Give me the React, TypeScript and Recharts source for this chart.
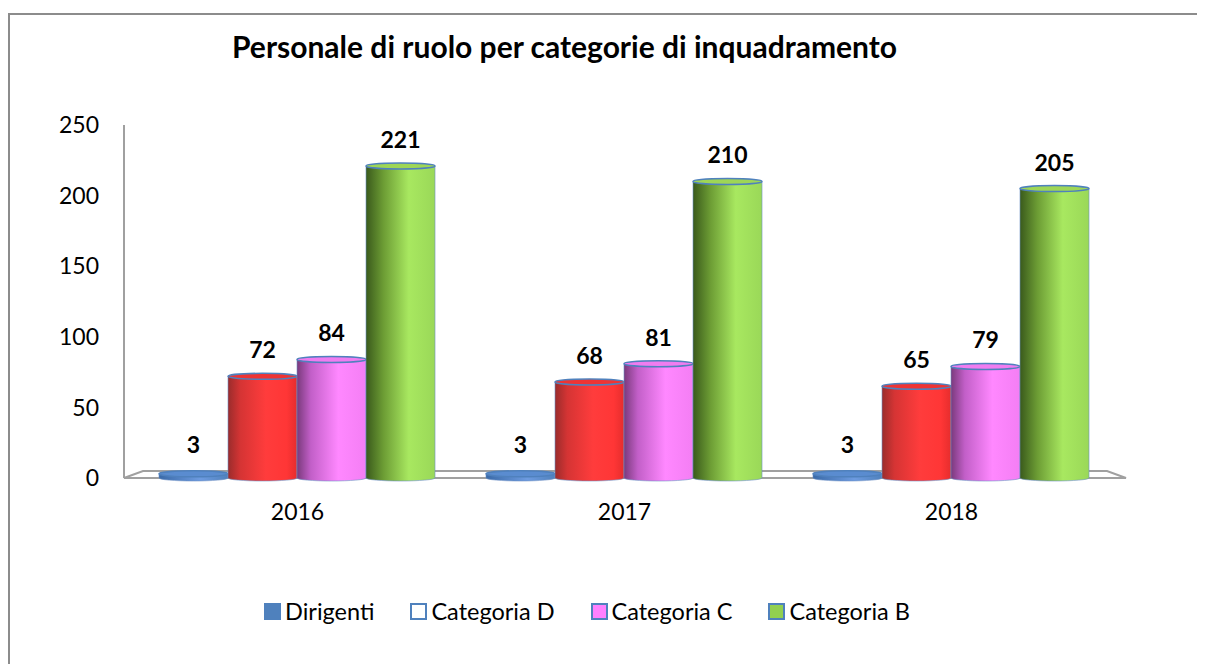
import React from "react"
import * as RC from "recharts"
import { BarChart, Bar, XAxis, YAxis, Legend, LabelList } from "recharts"

const years = ["2016", "2017", "2018"]
const dirigenti = [3, 3, 3]
const categoriaD = [72, 68, 65]
const categoriaC = [84, 81, 79]
const categoriaB = [221, 210, 205]
const yTicks = [0, 50, 100, 150, 200, 250]

const seriesNames = ["Dirigenti", "Categoria D", "Categoria C", "Categoria B"]

const data = years.map((year, i) => ({
  year,
  dirigenti: dirigenti[i],
  catD: categoriaD[i],
  catC: categoriaC[i],
  catB: categoriaB[i],
}))

const FONT = "Lato, 'Open Sans', sans-serif"

const legendItems = [
  { name: seriesNames[0], fill: "#4f81bd", border: "#4f81bd" },
  { name: seriesNames[1], fill: "#ffffff", border: "#4f81bd" },
  { name: seriesNames[2], fill: "#ff80ff", border: "#4f81bd" },
  { name: seriesNames[3], fill: "#92d050", border: "#4f81bd" },
]

function Cylinder(props: any) {
  const { x, y, width, height, gradId, capColor } = props
  if (!width || width <= 0) return null
  const rx = width / 2
  const ry = 3
  const bottom = y + height
  const d = `M${x},${y} L${x},${bottom} A${rx},${ry} 0 0 0 ${x + width},${bottom} L${x + width},${y} Z`
  return (
    <g>
      <path d={d} fill={`url(#${gradId})`} stroke="#6d8fc4" strokeWidth={1} strokeOpacity={0.6} />
      <ellipse cx={x + rx} cy={y} rx={rx} ry={ry} fill={capColor} stroke="#4f81bd" strokeWidth={1.5} />
    </g>
  )
}

function Floor() {
  const hook = (RC as any).usePlotArea || (RC as any).useOffset
  const area = hook ? hook() : null
  const x = area?.x ?? area?.left ?? 116
  const y = area?.y ?? area?.top ?? 117
  const w = area?.width ?? 991
  const h = area?.height ?? 353
  const b = y + h
  const r = x + w
  const pts = `${x},${b} ${x + 19},${b - 7} ${r - 8},${b - 7} ${r + 11},${b}`
  return <polygon points={pts} fill="none" stroke="#a0a0a0" strokeWidth={2} />
}

function Title() {
  return (
    <text x={224} y={50} fontFamily={FONT} fontSize={30} fontWeight="bold" fill="#000">
      Personale di ruolo per categorie di inquadramento
    </text>
  )
}

function LegendContent() {
  return (
    <div style={{ display: "flex", justifyContent: "center", alignItems: "center", fontFamily: FONT, fontSize: 23.5 }}>
      {legendItems.map((it, i) => (
        <div
          key={it.name}
          style={{ display: "flex", alignItems: "center", marginRight: i < legendItems.length - 1 ? 36 : 0 }}
        >
          <span
            style={{
              display: "inline-block",
              width: 13,
              height: 13,
              background: it.fill,
              border: `2px solid ${it.border}`,
              marginRight: 4,
            }}
          />
          <span>{it.name}</span>
        </div>
      ))}
    </div>
  )
}

export default function App() {
  return (
    <div style={{ position: "relative", width: 1197, height: 656, background: "#fff" }}>
      <div
        style={{
          position: "absolute",
          top: 5,
          left: 0,
          width: 1197,
          height: 651,
          borderTop: "2px solid #8c8c8c",
          borderLeft: "2px solid #8c8c8c",
          boxSizing: "border-box",
        }}
      />
      <div style={{ position: "absolute", top: 0, left: 0 }}>
        <BarChart
          width={1197}
          height={656}
          data={data}
          margin={{ top: 117, right: 90, left: 56, bottom: 156 }}
          barCategoryGap={25}
          barGap={0}
        >
          <defs>
            <linearGradient id="gDir" x1="0" y1="0" x2="1" y2="0">
              <stop offset="0%" stopColor="#3a6aa8" />
              <stop offset="60%" stopColor="#6d9be0" />
              <stop offset="100%" stopColor="#4f81bd" />
            </linearGradient>
            <linearGradient id="gD" x1="0" y1="0" x2="1" y2="0">
              <stop offset="0%" stopColor="#9a2c2c" />
              <stop offset="18%" stopColor="#d53434" />
              <stop offset="55%" stopColor="#ff3c3c" />
              <stop offset="85%" stopColor="#ff3636" />
              <stop offset="100%" stopColor="#e62d2d" />
            </linearGradient>
            <linearGradient id="gC" x1="0" y1="0" x2="1" y2="0">
              <stop offset="0%" stopColor="#7a3a7c" />
              <stop offset="20%" stopColor="#c25fc8" />
              <stop offset="60%" stopColor="#ff88ff" />
              <stop offset="100%" stopColor="#f47ef4" />
            </linearGradient>
            <linearGradient id="gB" x1="0" y1="0" x2="1" y2="0">
              <stop offset="0%" stopColor="#3a5a1c" />
              <stop offset="25%" stopColor="#6c9c34" />
              <stop offset="62%" stopColor="#a8e860" />
              <stop offset="100%" stopColor="#9ad858" />
            </linearGradient>
          </defs>
          <Floor />
          <Title />
          <XAxis
            dataKey="year"
            axisLine={false}
            tickLine={false}
            tickSize={0}
            tickMargin={26}
            height={30}
            padding={{ left: 10, right: 0 }}
            tick={{ fontSize: 23, fill: "#000", fontFamily: FONT }}
            interval={0}
          />
          <YAxis
            domain={[0, 250]}
            ticks={yTicks}
            width={60}
            axisLine={{ stroke: "#a0a0a0", strokeWidth: 2 }}
            tickLine={false}
            tickSize={0}
            tickMargin={25}
            tick={{ fontSize: 23, fill: "#000", fontFamily: FONT }}
          />
          <Legend
            layout="horizontal"
            verticalAlign="middle"
            align="center"
            content={<LegendContent />}
            wrapperStyle={{ top: 589, left: 0, width: 1158, height: 28 }}
          />
          <Bar
            dataKey="dirigenti"
            name={seriesNames[0]}
            fill="#4f81bd"
            isAnimationActive={false}
            shape={(p: any) => <Cylinder {...p} gradId="gDir" capColor="#5a8cd0" />}
          >
            <LabelList dataKey="dirigenti" position="top" offset={21} fill="#000" fontSize={23} fontWeight="bold" fontFamily={FONT} />
          </Bar>
          <Bar
            dataKey="catD"
            name={seriesNames[1]}
            fill="#ff3c3c"
            isAnimationActive={false}
            shape={(p: any) => <Cylinder {...p} gradId="gD" capColor="#ee3434" />}
          >
            <LabelList dataKey="catD" position="top" offset={18} fill="#000" fontSize={23} fontWeight="bold" fontFamily={FONT} />
          </Bar>
          <Bar
            dataKey="catC"
            name={seriesNames[2]}
            fill="#ff88ff"
            isAnimationActive={false}
            shape={(p: any) => <Cylinder {...p} gradId="gC" capColor="#f07cf0" />}
          >
            <LabelList dataKey="catC" position="top" offset={18} fill="#000" fontSize={23} fontWeight="bold" fontFamily={FONT} />
          </Bar>
          <Bar
            dataKey="catB"
            name={seriesNames[3]}
            fill="#a8e860"
            isAnimationActive={false}
            shape={(p: any) => <Cylinder {...p} gradId="gB" capColor="#9ed656" />}
          >
            <LabelList dataKey="catB" position="top" offset={18} fill="#000" fontSize={23} fontWeight="bold" fontFamily={FONT} />
          </Bar>
        </BarChart>
      </div>
    </div>
  )
}
